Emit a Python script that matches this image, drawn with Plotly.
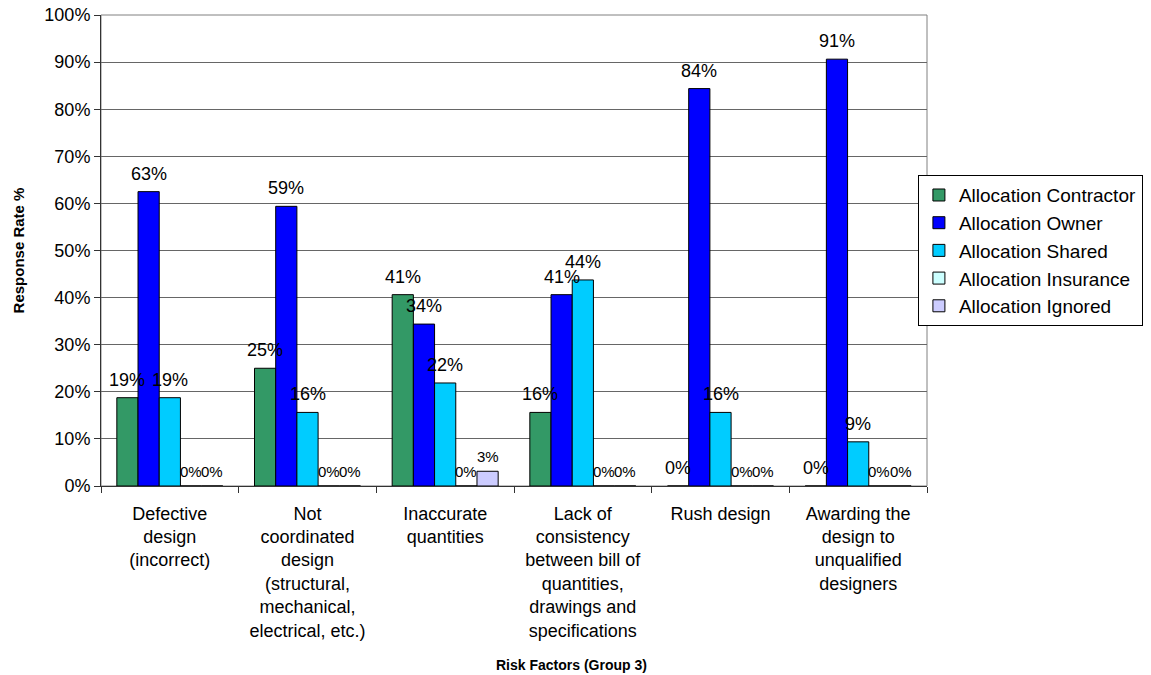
import math
import plotly.graph_objects as go

# Risk factors (group 3) and the share of respondents allocating each risk
categories = [
    "Defective<br>design<br>(incorrect)",
    "Not<br>coordinated<br>design<br>(structural,<br>mechanical,<br>electrical, etc.)",
    "Inaccurate<br>quantities",
    "Lack of<br>consistency<br>between bill of<br>quantities,<br>drawings and<br>specifications",
    "Rush design",
    "Awarding the<br>design to<br>unqualified<br>designers",
]

contractor = [0.1875, 0.25, 0.40625, 0.15625, 0.0, 0.0]
owner = [0.625, 0.59375, 0.34375, 0.40625, 0.84375, 0.90625]
shared = [0.1875, 0.15625, 0.21875, 0.4375, 0.15625, 0.09375]
insurance = [0.0, 0.0, 0.0, 0.0, 0.0, 0.0]
ignored = [0.0, 0.0, 0.03125, 0.0, 0.0, 0.0]

series_names = [
    "Allocation Contractor",
    "Allocation Owner",
    "Allocation Shared",
    "Allocation Insurance",
    "Allocation Ignored",
]
series_values = [contractor, owner, shared, insurance, ignored]
series_colors = ["#339966", "#0000FF", "#00CCFF", "#CCFFFF", "#CCCCFF"]
label_sizes = [18, 18, 18, 15, 15]
label_lift = [18, 18, 18, 15, 15]

FONT = "Liberation Sans, Arial, sans-serif"
BARGAP = 0.23

fig = go.Figure()
for name, vals, color in zip(series_names, series_values, series_colors):
    fig.add_trace(go.Bar(
        name=name,
        x=categories,
        y=vals,
        marker=dict(color=color, line=dict(color="#000000", width=1)),
        hoverinfo="skip",
    ))

# value labels centred above each bar of the group
n = len(series_values)
bar_w = (1 - BARGAP) / n
annotations = []
for j, vals in enumerate(series_values):
    for i, v in enumerate(vals):
        annotations.append(dict(
            x=i + (j - (n - 1) / 2) * bar_w,
            y=v,
            xref="x", yref="y",
            text=f"{math.floor(v * 100 + 0.5)}%",
            showarrow=False,
            yanchor="middle",
            xanchor="center",
            yshift=label_lift[j],
            font=dict(family=FONT, size=label_sizes[j], color="#000000"),
        ))

annotations.append(dict(
    x=0.57, y=-0.38, xref="paper", yref="paper",
    text="Risk Factors (Group 3)",
    showarrow=False, xanchor="center", yanchor="middle",
    font=dict(family=FONT, size=14, color="#000000", weight="bold"),
))

fig.update_layout(
    width=1151,
    height=675,
    paper_bgcolor="#FFFFFF",
    plot_bgcolor="#FFFFFF",
    barmode="group",
    bargap=BARGAP,
    bargroupgap=0,
    margin=dict(l=101, r=224, t=15, b=189, autoexpand=False),
    font=dict(family=FONT, color="#000000"),
    annotations=annotations,
    showlegend=True,
    legend=dict(
        x=0.989, y=0.66, xanchor="left", yanchor="top",
        xref="paper", yref="paper",
        bgcolor="#FFFFFF",
        bordercolor="#000000",
        borderwidth=1,
        font=dict(family=FONT, size=19, color="#000000"),
        traceorder="normal",
    ),
    shapes=[dict(
        type="rect", xref="paper", yref="paper",
        x0=0, x1=1, y0=0, y1=1,
        line=dict(color="#808080", width=1),
        layer="below",
    )],
)

fig.update_xaxes(
    type="category",
    tickson="boundaries",
    ticks="outside",
    ticklen=6,
    tickcolor="#333333",
    showline=True,
    linecolor="#333333",
    linewidth=1,
    showgrid=False,
    tickfont=dict(family=FONT, size=18, color="#000000"),
    ticklabelstandoff=11,
    automargin=False,
)

fig.update_yaxes(
    range=[0, 1],
    dtick=0.1,
    tickformat=".0%",
    ticks="outside",
    ticklen=6,
    tickcolor="#333333",
    showline=True,
    linecolor="#333333",
    linewidth=1,
    showgrid=True,
    gridcolor="#666666",
    gridwidth=1,
    zeroline=False,
    tickfont=dict(family=FONT, size=18, color="#000000"),
    title=dict(
        text="Response Rate %",
        font=dict(family=FONT, size=15, color="#000000", weight="bold"),
        standoff=16,
    ),
    automargin=False,
)

fig.write_html("out.html")
